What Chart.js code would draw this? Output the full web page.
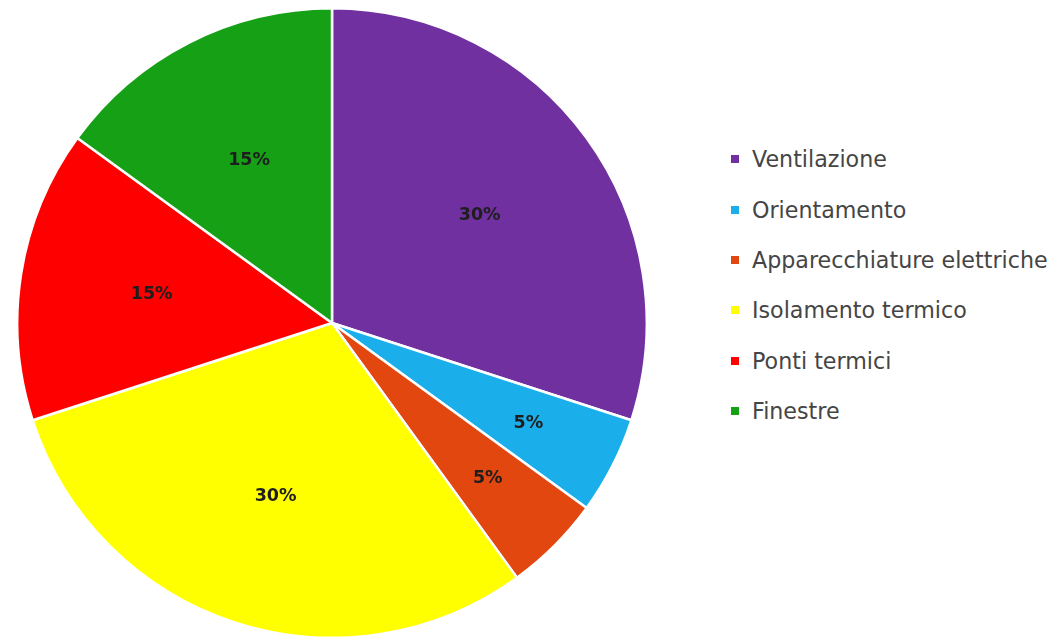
<!DOCTYPE html>
<html>
<head>
<meta charset="utf-8">
<script src="https://cdn.jsdelivr.net/npm/chart.js@4.4.1/dist/chart.umd.min.js"></script>
<style>
    body { margin: 0; background: #fff; width: 1062px; height: 644px; overflow: hidden; position: relative; }
    #pieBox { position: absolute; left: 16px; top: 7px; width: 632px; height: 632px; }
    #legend { position: absolute; left: 731px; top: 134px; font-family: "DejaVu Sans", sans-serif; font-size: 22.2px; color: #454545; }
    .legend-item { height: 50.4px; display: flex; align-items: center; white-space: nowrap; }
    .legend-box { width: 8px; height: 8px; margin-right: 13px; flex: none; }
</style>
</head>
<body>
<div id="pieBox"><canvas id="pieChart"></canvas></div>
<div id="legend"></div>
<script>
const labels = ["Ventilazione", "Orientamento", "Apparecchiature elettriche", "Isolamento termico", "Ponti termici", "Finestre"];
const values = [30, 5, 5, 30, 15, 15];
const colors = ["#7030A0", "#1AAFEA", "#E2470F", "#FFFF00", "#FF0000", "#16A016"];

// percent labels inside the slices
const sliceLabels = {
    id: "sliceLabels",
    afterDatasetsDraw(chart) {
        const ctx = chart.ctx;
        const meta = chart.getDatasetMeta(0);
        ctx.save();
        ctx.font = "bold 17.5px 'DejaVu Sans', sans-serif";
        ctx.fillStyle = "#1e1e1e";
        ctx.textAlign = "center";
        ctx.textBaseline = "middle";
        meta.data.forEach((arc, i) => {
            const mid = (arc.startAngle + arc.endAngle) / 2;
            const frac = values[i] < 10 ? 0.7 : 0.58;
            const r = arc.outerRadius * frac;
            ctx.fillText(values[i] + "%", arc.x + Math.cos(mid) * r, arc.y + Math.sin(mid) * r);
        });
        ctx.restore();
    }
};

new Chart(document.querySelector("#pieChart"), {
    type: "pie",
    data: {
        labels: labels,
        datasets: [{
            data: values,
            backgroundColor: colors,
            borderColor: "#ffffff",
            borderWidth: 2.5
        }]
    },
    options: {
        responsive: true,
        maintainAspectRatio: false,
        animation: false,
        layout: { padding: 0 },
        plugins: {
            legend: { display: false },
            tooltip: { enabled: false }
        }
    },
    plugins: [sliceLabels]
});

const legend = document.querySelector("#legend");
legend.innerHTML = labels.reduce((html, label, i) => {
    return html +
        `<div class="legend-item">
            <div class="legend-box" style="background:${colors[i]}"></div>
            <div>${label}</div>
        </div>`;
}, "");
</script>
</body>
</html>
